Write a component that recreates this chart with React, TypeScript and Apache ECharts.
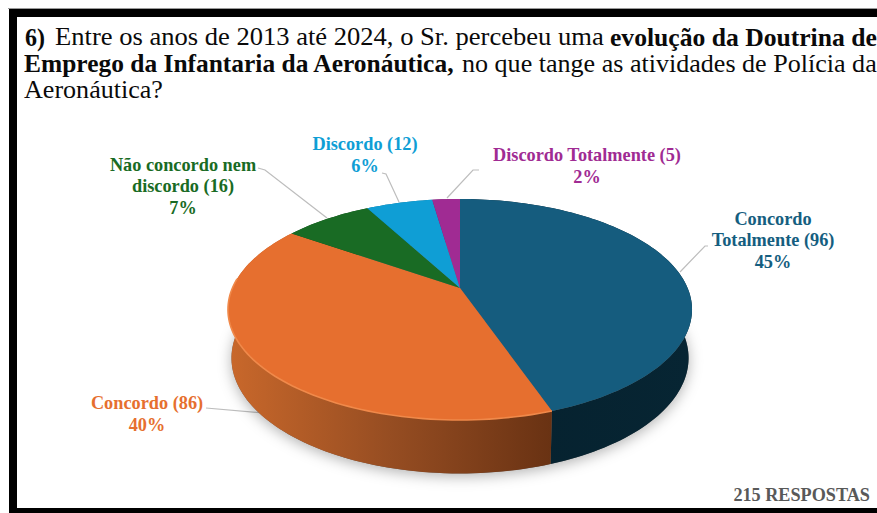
import React, { useEffect, useRef } from "react";
import * as echarts from "echarts";

// ---- data
const categories = ["Concordo Totalmente", "Concordo", "Não concordo nem discordo", "Discordo", "Discordo Totalmente"];
const labelFirstLines = ["Concordo\nTotalmente", "Concordo", "Não concordo nem\ndiscordo", "Discordo", "Discordo Totalmente"];
const responses = [96, 86, 16, 12, 5];
const total = 215;
const footerText = `${total} RESPOSTAS`;

// ---- styles & layout
const serif = "'Liberation Serif', 'Times New Roman', serif";
const topColors = ["#155c7e", "#e66f2f", "#196b24", "#0f9ed5", "#a02b93"];
const labelColors = ["#155e80", "#e66f2f", "#196b24", "#0f9ed5", "#a02b93"];
const labelCenters = [[773, 240], [147, 414], [183, 186], [365, 155], [587, 166]];
const leaders = [
  [[708, 246], [705, 246], [680, 272]],
  [[206, 408], [263, 413]],
  [[258, 168], [265, 170], [327, 218]],
  [[382, 173], [386, 174], [399, 202]],
  [[479, 170], [473, 170], [447, 198]],
];
const titleLines: [string, boolean, number, number, number][] = [
  ["6)", true, 25, 45, 37],
  ["Entre os anos de 2013 até 2024, o Sr. percebeu uma", false, 55, 604, 37],
  ["evolução da Doutrina de", true, 610, 877, 37],
  ["Emprego da Infantaria da Aeronáutica,", true, 24, 455, 64],
  ["no que tange as atividades de Polícia da", false, 462, 877, 64],
  ["Aeronáutica?", false, 24, 163, 90],
];

// ---- projected disc
const apexX = 460, apexY = 288;
const A = 227.6, B = 106.3, K = 0.1946;
const project = (deg: number) => {
  const t = (deg * Math.PI) / 180;
  const u = Math.sin(t), v = -Math.cos(t);
  const w = 1 - K * v;
  return [apexX + (A * u) / w, apexY + (B * v) / w];
};
const lower = (p: number[]) => [461 + (p[0] - 461) * 0.985, 358 + (p[1] - 309.5) * 1.045];
const arc = (a: number, b: number) => {
  const n = Math.max(2, Math.ceil(Math.abs(b - a) / 1.5));
  return Array.from({ length: n + 1 }, (_, i) => project(a + ((b - a) * i) / n));
};

const sum = responses.reduce((s, v) => s + v, 0);
const seriesData = responses.map((v, i) => {
  const before = responses.slice(0, i).reduce((s, x) => s + x, 0);
  return { name: categories[i], value: [(before / sum) * 360, ((before + v) / sum) * 360] };
});

const wallFills = () => [
  new echarts.graphic.LinearGradient(0, 0, 1, 0, [
    { offset: 0, color: "#05212e" },
    { offset: 1, color: "#072533" },
  ]),
  new echarts.graphic.LinearGradient(0, 0, 1, 0, [
    { offset: 0, color: "#c9682b" },
    { offset: 0.5, color: "#964d22" },
    { offset: 1, color: "#693213" },
  ]),
  "#10491a", "#0b6f96", "#701e67",
];

const measure = document.createElement("canvas").getContext("2d")!;

export default function App() {
  const ref = useRef<HTMLDivElement>(null);
  useEffect(() => {
    document.body.style.margin = "0";
    const chart = echarts.init(ref.current!, null, { renderer: "svg" });
    const fills = wallFills();
    const titleSize = 25;
    const titleEls = titleLines.map(([text, bold, x0, x1, y]) => {
      const font = `${bold ? "bold " : ""}${titleSize}px ${serif}`;
      measure.font = font;
      const sx = (x1 - x0) / measure.measureText(text).width;
      return {
        type: "text", x: x0, y, scaleX: sx, scaleY: 1,
        style: { text, font, fill: "#0a0a0a", textAlign: "left", textVerticalAlign: "middle" },
      };
    });
    const labelEls = responses.map((v, i) => ({
      type: "text",
      x: labelCenters[i][0],
      y: labelCenters[i][1],
      style: {
        text: `${labelFirstLines[i]} (${v})\n${Math.round((v / sum) * 100)}%`,
        font: `bold 18.3px ${serif}`,
        fill: labelColors[i],
        textAlign: "center",
        textVerticalAlign: "middle",
        lineHeight: 21.5,
      },
    }));
    const leaderEls = leaders.map((pts) => ({
      type: "polyline",
      shape: { points: pts },
      style: { stroke: "#bdbdbd", lineWidth: 1.2, fill: "none" },
    }));
    chart.setOption({
      animation: false,
      backgroundColor: "#fff",
      series: [
        {
          type: "custom",
          coordinateSystem: "none",
          silent: true,
          data: [{ name: "sombra", value: [0, 360] }],
          renderItem: (_p: any, api: any) => {
            const top = arc(api.value(0), api.value(1));
            return {
              type: "polygon",
              shape: { points: top.map(lower) },
              style: {
                fill: "#666",
                shadowBlur: 14,
                shadowColor: "rgba(0,0,0,0.3)",
                shadowOffsetY: 3,
              },
            };
          },
        },
        {
          type: "custom",
          coordinateSystem: "none",
          silent: true,
          data: seriesData,
          renderItem: (p: any, api: any) => {
            const top = arc(api.value(0), api.value(1));
            const bottom = top.map(lower).reverse();
            return {
              type: "polygon",
              shape: { points: [...top, ...bottom] },
              style: { fill: fills[p.dataIndex] },
            };
          },
        },
        {
          type: "custom",
          coordinateSystem: "none",
          silent: true,
          data: seriesData,
          renderItem: (p: any, api: any) => {
            const a = api.value(0), b = api.value(1);
            return {
              type: "group",
              children: [
                {
                  type: "polygon",
                  shape: { points: [[apexX, apexY], ...arc(a, b)] },
                  style: { fill: topColors[p.dataIndex] },
                },
                ...(p.dataIndex === 1
                  ? [{
                      type: "polyline",
                      shape: { points: arc(a, Math.min(b, 275)) },
                      style: { stroke: "#f0894a", lineWidth: 1.6, fill: "none" },
                    }]
                  : []),
              ],
            };
          },
        },
      ],
      graphic: {
        elements: [
          { type: "rect", shape: { x: 8, y: 8, width: 869, height: 1 }, style: { fill: "#9a9a9a" }, z: 10 },
          { type: "rect", shape: { x: 9, y: 9, width: 868, height: 8 }, style: { fill: "#000" }, z: 10 },
          { type: "rect", shape: { x: 9, y: 9, width: 8, height: 504 }, style: { fill: "#000" }, z: 10 },
          { type: "rect", shape: { x: 9, y: 508, width: 868, height: 5 }, style: { fill: "#000" }, z: 10 },
          ...titleEls,
          ...leaderEls,
          ...labelEls,
          {
            type: "text", x: 870, y: 495,
            style: { text: footerText, font: `bold 18.2px ${serif}`, fill: "#595959", textAlign: "right", textVerticalAlign: "middle" },
          },
        ],
      },
    });
    return () => chart.dispose();
  }, []);
  return <div ref={ref} style={{ position: "fixed", left: 0, top: 0, width: 877, height: 513 }} />;
}
